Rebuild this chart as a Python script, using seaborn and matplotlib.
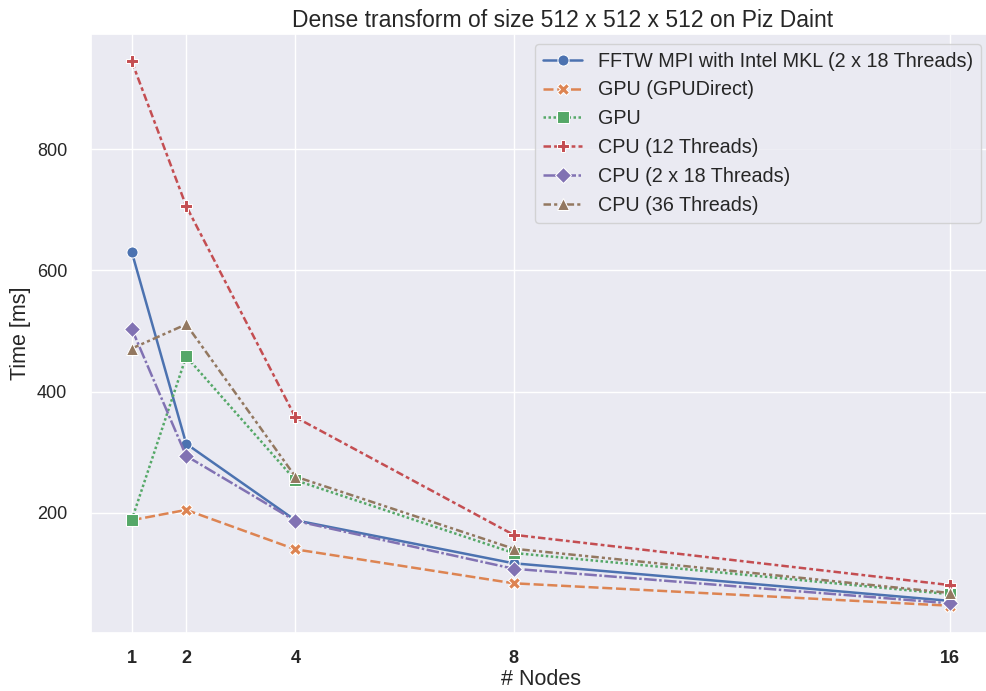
import matplotlib
matplotlib.use("Agg")
import matplotlib.pyplot as plt
import seaborn as sns
import pandas as pd

nodes = [1, 2, 4, 8, 16]
series_names = [
    "FFTW MPI with Intel MKL (2 x 18 Threads)",
    "GPU (GPUDirect)",
    "GPU",
    "CPU (12 Threads)",
    "CPU (2 x 18 Threads)",
    "CPU (36 Threads)",
]
fftw = [631, 314, 188, 117, 55]
gpu_direct = [188, 205, 140, 84, 47]
gpu = [188, 458, 254, 134, 66]
cpu12 = [945, 706, 358, 164, 81]
cpu2x18 = [504, 294, 187, 108, 51]
cpu36 = [471, 511, 260, 141, 68]
y_ticks = [200, 400, 600, 800]

values = [fftw, gpu_direct, gpu, cpu12, cpu2x18, cpu36]
rows = []
for name, vals in zip(series_names, values):
    for n, v in zip(nodes, vals):
        rows.append({"# Nodes": n, "Time [ms]": v, "series": name})
df = pd.DataFrame(rows)

sns.set_theme(style="darkgrid")
plt.rcParams["font.family"] = ["Liberation Sans", "DejaVu Sans"]

fig, ax = plt.subplots(figsize=(9.86, 6.91), dpi=100)
sns.lineplot(data=df, x="# Nodes", y="Time [ms]", hue="series", style="series",
             markers=["o", "X", "s", "P", "D", "^"], dashes=True,
             hue_order=series_names, style_order=series_names, ax=ax,
             linewidth=1.8, markersize=8)
ax.set_xticks(nodes)
ax.set_xticklabels([str(n) for n in nodes], fontsize=13, fontweight="bold")
ax.set_yticks(y_ticks)
ax.tick_params(axis="y", labelsize=13, pad=11)
ax.tick_params(axis="x", pad=6)
ax.set_xlabel("# Nodes", fontsize=15.5, labelpad=2)
ax.set_ylabel("Time [ms]", fontsize=15.5, labelpad=4)
ax.set_title("Dense transform of size 512 x 512 x 512 on Piz Daint", fontsize=16.5,
             pad=5, x=0.524)
ax.legend(title=None, loc="upper right", fontsize=14.2)
fig.subplots_adjust(left=0.092, right=1.005, top=0.951, bottom=0.084)
fig.savefig("out.png", dpi=100)
